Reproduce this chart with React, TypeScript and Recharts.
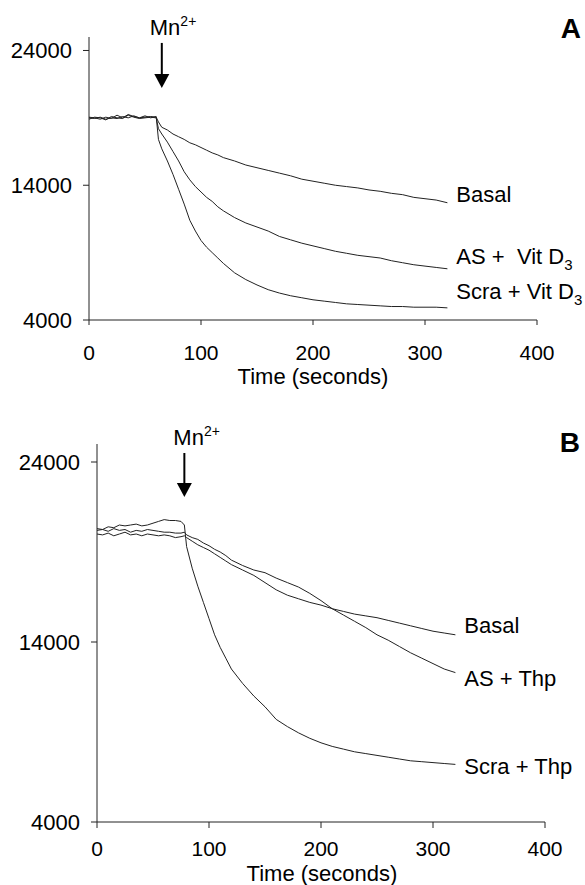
import { LineChart, Line, XAxis, YAxis, ReferenceDot } from "recharts";

const FONT = "'Liberation Sans', Arial, Helvetica, sans-serif";
const INK = "#222";

// Panel A: Vit D3 (time in seconds, fluorescence)
const timeA = [
  0, 5, 10, 15, 20, 25, 30, 35, 40, 45, 50, 55, 60, 62, 65, 70, 75, 80, 85,
  90, 95, 100, 105, 110, 115, 120, 130, 140, 150, 160, 170, 180, 190, 200,
  210, 220, 230, 240, 250, 260, 270, 280, 290, 300, 310, 320,
];
const basalA = [
  19000, 18950, 19050, 18900, 19000, 18950, 19100, 19000, 19150, 19000, 19050,
  19100, 19050, 18700, 18300, 18100, 17800, 17600, 17400, 17150, 17000, 16800,
  16600, 16400, 16250, 16050, 15800, 15500, 15300, 15100, 14900, 14700, 14450,
  14300, 14150, 14000, 13900, 13800, 13650, 13550, 13400, 13300, 13100, 13000,
  12900, 12700,
];
const asVitD3A = [
  18900, 19050, 19000, 18850, 19100, 19000, 18950, 19200, 19050, 18950, 19000,
  19050, 19000, 18200, 17800, 17200, 16500, 15800, 15000, 14400, 13900, 13500,
  13100, 12800, 12400, 12100, 11600, 11200, 10900, 10600, 10200, 9950, 9700,
  9500, 9300, 9100, 8950, 8800, 8700, 8600, 8400, 8250, 8100, 8000, 7900, 7800,
];
const scraVitD3A = [
  19050, 19000, 18900, 19050, 18950, 19200, 19000, 19250, 19100, 19000, 19150,
  19000, 19100, 17400, 16700, 15800, 14800, 13700, 12600, 11400, 10600, 9900,
  9400, 9000, 8600, 8200, 7500, 7000, 6600, 6250, 6000, 5800, 5650, 5500, 5400,
  5300, 5200, 5150, 5100, 5050, 5000, 5000, 4950, 4950, 4950, 4900,
];

// Panel B: Thp
const timeB = [
  0, 5, 10, 15, 20, 25, 30, 35, 40, 45, 50, 55, 60, 65, 70, 75, 78, 80, 85,
  90, 95, 100, 105, 110, 115, 120, 130, 140, 150, 160, 170, 180, 190, 200,
  210, 220, 230, 240, 250, 260, 270, 280, 290, 300, 310, 320,
];
const basalB = [
  20000, 19950, 20050, 19900, 20000, 20100, 19950, 20000, 19900, 20000, 19950,
  19900, 19950, 19900, 19800, 19850, 19900, 19800, 19600, 19400, 19250, 19100,
  18900, 18700, 18500, 18300, 18000, 17700, 17300, 16900, 16600, 16400, 16200,
  16050, 15850, 15700, 15550, 15450, 15350, 15200, 15050, 14900, 14750, 14600,
  14500, 14400,
];
const asThpB = [
  20200, 20250, 20150, 20300, 20200, 20250, 20100, 20200, 20150, 20250, 20200,
  20150, 20100, 20100, 20050, 20050, 20100, 19950, 19800, 19700, 19500, 19350,
  19150, 19000, 18800, 18550, 18250, 18000, 17850, 17550, 17300, 17050, 16700,
  16300, 15850, 15500, 15150, 14800, 14400, 14100, 13750, 13400, 13100, 12800,
  12500, 12300,
];
const scraThpB = [
  20300, 20250, 20400, 20350, 20500, 20450, 20500, 20550, 20450, 20500, 20600,
  20700, 20800, 20750, 20750, 20700, 20500, 19300, 18100, 17100, 16200, 15300,
  14400, 13700, 13100, 12500, 11700, 11000, 10400, 9700, 9300, 8950, 8650, 8400,
  8200, 8050, 7900, 7800, 7700, 7600, 7500, 7400, 7350, 7300, 7250, 7200,
];

const xTicks = [0, 100, 200, 300, 400];
const yTicks = [4000, 14000, 24000];

const rowsA = timeA.map((t, i) => ({
  t,
  basal: basalA[i],
  as: asVitD3A[i],
  scra: scraVitD3A[i],
}));
const rowsB = timeB.map((t, i) => ({
  t,
  basal: basalB[i],
  as: asThpB[i],
  scra: scraThpB[i],
}));

function arrowShape(len: number, textUp: number, textDx: number) {
  return (props: any) => {
    const { cx, cy } = props;
    return (
      <g>
        <line x1={cx} y1={cy - len} x2={cx} y2={cy - 12} stroke="#000" strokeWidth={2} />
        <polygon points={`${cx - 7.5},${cy - 14} ${cx + 7.5},${cy - 14} ${cx},${cy}`} fill="#000" />
        <text x={cx - textDx} y={cy - textUp} fontSize={22} fontFamily={FONT} fill="#000">
          Mn
          <tspan fontSize={14} dy={-9}>
            2+
          </tspan>
        </text>
      </g>
    );
  };
}

function seriesLabel(main: string, sub?: string) {
  return (props: any) => {
    const { cx, cy } = props;
    return (
      <text x={cx} y={cy} fontSize={22} fontFamily={FONT} fill="#000" style={{ whiteSpace: "pre" }}>
        {main}
        {sub ? (
          <tspan fontSize={15} dy={6}>
            {sub}
          </tspan>
        ) : null}
      </text>
    );
  };
}

const tickStyle = { fontSize: 21, fill: "#000", fontFamily: FONT };
const yTickStyle = { fontSize: 22, fill: "#000", fontFamily: FONT };

function Series() {
  return null;
}

export default function App() {
  return (
    <div style={{ position: "absolute", left: 0, top: 0, width: 585, height: 885, background: "#fff" }}>
      <div style={{ position: "absolute", left: 0, top: 0 }}>
        <LineChart width={585} height={420} data={rowsA} margin={{ top: 37, right: 48, bottom: 40, left: 0 }}>
          <XAxis
            dataKey="t"
            type="number"
            domain={[0, 400]}
            ticks={xTicks}
            interval={0}
            height={60}
            tickSize={5}
            tickMargin={20}
            tick={tickStyle}
            stroke={INK}
          />
          <YAxis
            type="number"
            domain={[4000, 25000]}
            ticks={yTicks}
            interval={0}
            width={89}
            tickSize={6}
            tickMargin={11}
            tick={yTickStyle}
            stroke={INK}
          />
          <Line dataKey="basal" stroke={INK} strokeWidth={1} dot={false} isAnimationActive={false} />
          <Line dataKey="as" stroke={INK} strokeWidth={1} dot={false} isAnimationActive={false} />
          <Line dataKey="scra" stroke={INK} strokeWidth={1} dot={false} isAnimationActive={false} />
          <ReferenceDot x={65} y={21220} ifOverflow="visible" shape={arrowShape(45, 53, 12)} />
          <ReferenceDot x={328} y={12780} ifOverflow="visible" shape={seriesLabel("Basal")} />
          <ReferenceDot x={328} y={8185} ifOverflow="visible" shape={seriesLabel("AS +  Vit D", "3")} />
          <ReferenceDot x={328} y={5590} ifOverflow="visible" shape={seriesLabel("Scra + Vit D", "3")} />
        </LineChart>
      </div>
      <div style={{ position: "absolute", left: 0, top: 420 }}>
        <LineChart width={585} height={465} data={rowsB} margin={{ top: 24, right: 40, bottom: 0, left: 0 }}>
          <XAxis
            dataKey="t"
            type="number"
            domain={[0, 400]}
            ticks={xTicks}
            interval={0}
            height={63}
            tickSize={6}
            tickMargin={13}
            tick={tickStyle}
            stroke={INK}
          />
          <YAxis
            type="number"
            domain={[4000, 25000]}
            ticks={yTicks}
            interval={0}
            width={97}
            tickSize={6}
            tickMargin={11}
            tick={yTickStyle}
            stroke={INK}
          />
          <Line dataKey="basal" stroke={INK} strokeWidth={1} dot={false} isAnimationActive={false} />
          <Line dataKey="as" stroke={INK} strokeWidth={1} dot={false} isAnimationActive={false} />
          <Line dataKey="scra" stroke={INK} strokeWidth={1} dot={false} isAnimationActive={false} />
          <ReferenceDot x={78} y={22056} ifOverflow="visible" shape={arrowShape(44, 52, 11)} />
          <ReferenceDot x={328} y={14500} ifOverflow="visible" shape={seriesLabel("Basal")} />
          <ReferenceDot x={328} y={11556} ifOverflow="visible" shape={seriesLabel("AS + Thp")} />
          <ReferenceDot x={328} y={6667} ifOverflow="visible" shape={seriesLabel("Scra + Thp")} />
        </LineChart>
      </div>
      <svg
        width={585}
        height={885}
        style={{ position: "absolute", left: 0, top: 0, pointerEvents: "none" }}
      >
        <text x={313} y={384} textAnchor="middle" fontSize={22} fontFamily={FONT} fill="#000">
          Time (seconds)
        </text>
        <text x={322} y={881} textAnchor="middle" fontSize={22} fontFamily={FONT} fill="#000">
          Time (seconds)
        </text>
        <text x={581} y={38} textAnchor="end" fontSize={28} fontWeight="bold" fontFamily={FONT} fill="#000">
          A
        </text>
        <text x={580} y={452} textAnchor="end" fontSize={28} fontWeight="bold" fontFamily={FONT} fill="#000">
          B
        </text>
      </svg>
    </div>
  );
}
